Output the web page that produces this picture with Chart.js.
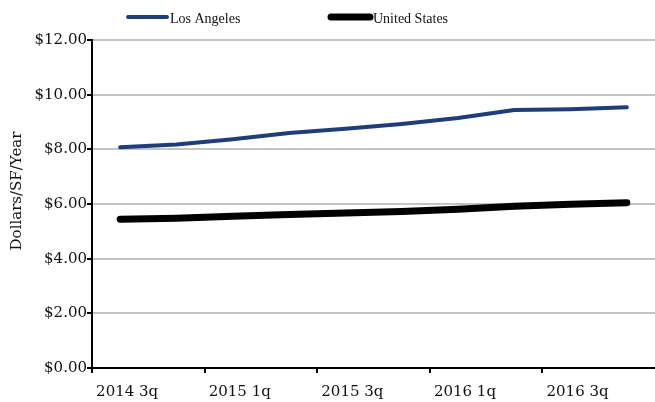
<!DOCTYPE html>
<html lang="en">
<head>
    <meta charset="UTF-8">
    <title>Asking Rent - Los Angeles vs United States</title>
    <script src="https://cdn.jsdelivr.net/npm/chart.js"></script>
    <style>
        html, body { margin: 0; padding: 0; background: #fff; }
    </style>
</head>
<body>
    <canvas id="rentChart" width="655" height="402"></canvas>

    <script>
        // Quarterly asking rent, dollars per SF per year
        const quarters = ['2014 3q', '2014 4q', '2015 1q', '2015 2q', '2015 3q',
                          '2015 4q', '2016 1q', '2016 2q', '2016 3q', '2016 4q'];
        const losAngeles = [8.08, 8.18, 8.37, 8.60, 8.75, 8.93, 9.15, 9.44, 9.47, 9.54];
        const unitedStates = [5.44, 5.48, 5.55, 5.62, 5.67, 5.73, 5.81, 5.92, 5.99, 6.05];
        const yMin = 0;
        const yMax = 12;
        const yStep = 2;
        const yTitle = 'Dollars/SF/Year';

        const serif = '"DejaVu Serif", serif';
        const legendFont = '14px "Liberation Serif", serif';
        Chart.defaults.font.family = serif;
        Chart.defaults.color = '#111';

        // Legend and axis title drawn by hand so they sit where the original puts them
        const legendSpots = [126, 329];
        const extras = {
            id: 'extras',
            afterDraw(chart) {
                const ctx = chart.ctx;
                ctx.save();
                ctx.font = legendFont;
                ctx.textBaseline = 'middle';
                chart.data.datasets.forEach((ds, i) => {
                    const x = legendSpots[i];
                    ctx.strokeStyle = ds.borderColor;
                    ctx.lineWidth = ds.borderWidth;
                    ctx.lineCap = 'round';
                    ctx.beginPath();
                    ctx.moveTo(x + 2, 17);
                    ctx.lineTo(x + 41, 17);
                    ctx.stroke();
                    ctx.fillStyle = '#111';
                    ctx.fillText(ds.label, x + 44, 19);
                });

                // rotated y title
                ctx.translate(21, 191);
                ctx.rotate(-Math.PI / 2);
                ctx.font = '15px ' + serif;
                ctx.textAlign = 'center';
                ctx.textBaseline = 'alphabetic';
                ctx.fillText(yTitle, 0, 0);
                ctx.restore();
            }
        };

        const ctx = document.getElementById('rentChart').getContext('2d');
        new Chart(ctx, {
            type: 'line',
            data: {
                labels: quarters,
                datasets: [
                    {
                        label: 'Los Angeles',
                        data: losAngeles,
                        borderColor: '#1f3d78',
                        borderWidth: 4,
                        borderCapStyle: 'round',
                        borderJoinStyle: 'round',
                        pointRadius: 0,
                        tension: 0
                    },
                    {
                        label: 'United States',
                        data: unitedStates,
                        borderColor: '#000000',
                        borderWidth: 7,
                        borderCapStyle: 'round',
                        borderJoinStyle: 'round',
                        pointRadius: 0,
                        tension: 0
                    }
                ]
            },
            options: {
                responsive: false,
                animation: false,
                layout: { padding: { top: 40, right: 0, left: 0, bottom: 0 } },
                plugins: {
                    legend: { display: false },
                    tooltip: { enabled: false }
                },
                scales: {
                    x: {
                        type: 'category',
                        offset: true,
                        border: { color: '#000', width: 2 },
                        grid: {
                            offset: true,
                            drawOnChartArea: false,
                            tickLength: 5,
                            lineWidth: 2,
                            tickColor: (c) => c.index % 2 === 0 ? '#000' : 'rgba(0,0,0,0)'
                        },
                        ticks: {
                            autoSkip: false,
                            maxRotation: 0,
                            labelOffset: 7,
                            padding: 10,
                            font: { size: 15 },
                            callback: (v, i) => i % 2 === 0 ? quarters[i] : ''
                        },
                        afterFit: (scale) => { scale.height = 34; }
                    },
                    y: {
                        min: yMin,
                        max: yMax,
                        border: { color: '#000', width: 2 },
                        grid: {
                            color: '#c4c4c4',
                            lineWidth: 2,
                            tickColor: '#000',
                            tickLength: 5
                        },
                        ticks: {
                            stepSize: yStep,
                            padding: 0,
                            font: { size: 15 },
                            callback: (v) => '$' + v.toFixed(2)
                        },
                        afterFit: (scale) => { scale.width = 92; }
                    }
                }
            },
            plugins: [extras]
        });
    </script>
</body>
</html>
